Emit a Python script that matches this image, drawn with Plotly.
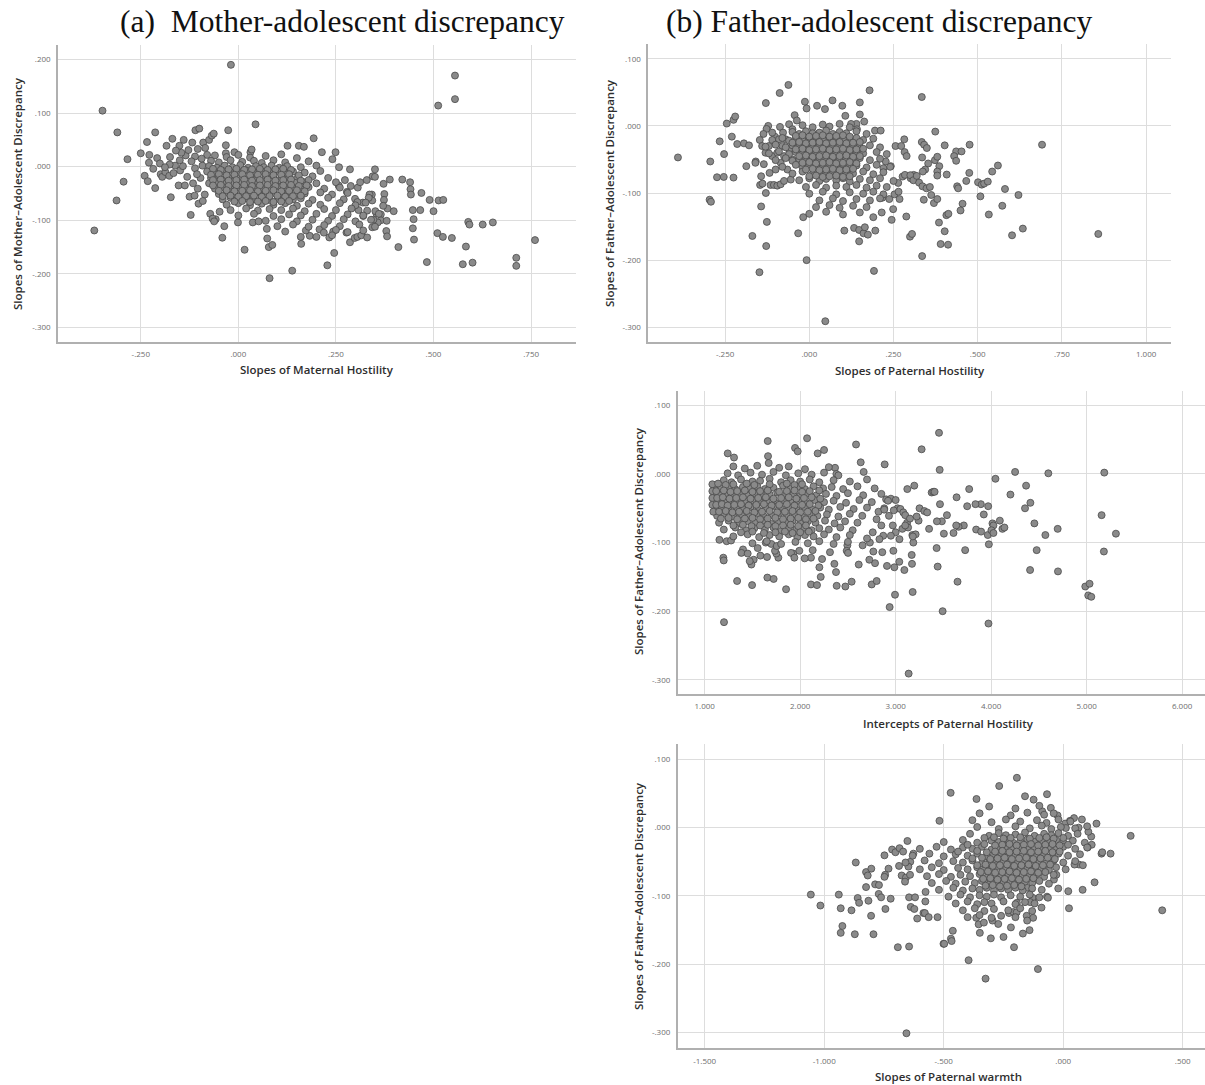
import plotly.graph_objects as go

W, H = 1205, 1085

# ---------------- Panel (a): Mother-adolescent ----------------
mother_sparse = [
    (-0.348, 0.1045), (-0.369, -0.119), (-0.310, 0.064), (-0.312, -0.063), (-0.284, 0.014), (-0.294, -0.028),
    (-0.250, 0.025), (-0.234, 0.046), (-0.213, 0.064), (-0.228, 0.022), (-0.229, 0.0075), (-0.240, -0.017),
    (-0.232, -0.027), (-0.213, -0.040), (-0.218, -0.004), (-0.208, 0.016), (-0.199, -0.014), (-0.195, -0.019),
    (-0.187, -0.010), (-0.184, 0.039), (-0.175, 0.018), (-0.177, -0.017), (-0.169, 0.052), (-0.162, 0.002),
    (-0.173, -0.057), (-0.151, 0.039), (-0.140, 0.050), (-0.149, -0.007), (-0.153, -0.035), (-0.135, 0.021),
    (-0.125, -0.056), (-0.122, -0.090), (-0.111, 0.019), (-0.110, 0.068), (-0.100, 0.071), (-0.104, 0.033),
    (-0.111, -0.003), (-0.102, -0.069), (-0.090, 0.045), (-0.085, 0.035), (-0.075, 0.050), (-0.068, 0.058),
    (-0.080, 0.022), (-0.092, 0.002), (-0.097, -0.021), (-0.104, -0.041), (-0.086, -0.052), (-0.120, 0.010),
    (-0.131, -0.019), (-0.142, 0.001), (-0.116, -0.031), (-0.106, -0.014), (-0.094, 0.015), (-0.128, 0.031),
    (-0.146, 0.026), (-0.160, 0.030), (-0.176, 0.004), (-0.201, 0.006), (-0.112, -0.054), (-0.091, -0.064),
    (-0.072, -0.088), (-0.058, -0.098), (-0.048, -0.084), (-0.188, -0.001), (-0.166, -0.012), (-0.137, -0.035),
    (-0.118, 0.045), (-0.150, 0.012),
    (-0.019, 0.190), (0.044, 0.079), (-0.026, 0.068), (-0.063, 0.0616), (-0.032, 0.040), (-0.032, 0.025),
    (-0.010, 0.027), (0.031, 0.027), (0.034, 0.032), (-0.041, -0.1325), (-0.036, -0.111), (0.016, -0.155),
    (0.080, -0.208), (0.138, -0.194), (0.078, -0.150), (0.087, -0.146), (0.074, -0.134), (0.073, -0.116),
    (0.161, -0.144), (0.160, -0.131), (0.183, -0.129), (0.173, -0.119), (0.208, -0.117), (0.219, -0.123),
    (0.233, -0.132), (0.243, -0.121), (0.228, -0.184), (0.2456, -0.161), (0.193, 0.053), (0.126, 0.039),
    (0.155, 0.039), (0.168, 0.037), (0.214, 0.027), (0.249, 0.027), (0.258, -0.001), (0.286, -0.005),
    (-0.001, -0.104), (0.037, -0.104), (0.052, -0.102), (-0.066, -0.097), (-0.062, -0.102), (0.241, 0.014),
    (0.555, 0.170), (0.555, 0.126), (0.512, 0.114), (0.760, -0.137), (0.712, -0.170), (0.712, -0.185),
    (0.652, -0.104), (0.626, -0.108), (0.589, -0.103), (0.592, -0.108), (0.583, -0.149), (0.575, -0.182),
    (0.600, -0.179), (0.483, -0.178), (0.510, -0.124), (0.524, -0.131), (0.547, -0.133), (0.490, -0.062),
    (0.513, -0.063), (0.525, -0.062), (0.500, -0.083), (0.469, -0.049), (0.466, -0.081), (0.447, -0.081),
    (0.449, -0.098), (0.447, -0.115), (0.450, -0.136), (0.410, -0.150), (0.420, -0.024), (0.440, -0.029),
    (0.441, -0.042), (0.442, -0.052), (0.388, -0.024), (0.372, -0.032), (0.374, -0.051), (0.398, -0.083),
    (0.382, -0.078), (0.350, -0.005), (0.344, -0.018), (0.350, -0.019), (0.342, -0.052), (0.343, -0.063),
    (0.329, -0.025), (0.336, -0.052), (0.373, -0.062), (0.371, -0.073), (0.365, -0.089), (0.365, -0.100),
    (0.357, -0.104), (0.354, -0.088), (0.346, -0.099), (0.343, -0.113), (0.379, -0.120), (0.381, -0.130),
    (0.319, -0.067), (0.320, -0.092), (0.334, -0.058), (0.351, -0.083), (0.306, -0.039), (0.312, -0.029),
    (0.299, -0.060), (0.305, -0.066), (0.288, -0.036), (0.278, -0.047), (0.277, -0.123), (0.286, -0.141),
    (0.298, -0.133), (0.305, -0.131), (0.315, -0.128), (0.308, -0.081), (0.326, -0.067), (0.273, -0.025),
    (0.257, -0.035),
]
mother_core = [
    (-0.06, 0.021), (-0.03, 0.018), (0.0, 0.022), (0.03, 0.017), (0.07, 0.020), (0.11, 0.023), (0.15, 0.016),
    (-0.07, 0.011), (-0.05, 0.008), (-0.02, 0.012), (0.01, 0.009), (0.04, 0.011), (0.06, 0.007), (0.09, 0.012),
    (0.12, 0.008), (0.18, 0.010),
    (-0.075, 0.001), (-0.055, -0.002), (-0.035, 0.002), (-0.015, -0.001), (0.005, 0.003), (0.025, -0.002),
    (0.045, 0.001), (0.065, -0.001), (0.085, 0.002), (0.105, -0.002), (0.125, 0.001), (0.16, -0.001), (0.2, 0.002),
    (-0.08, -0.009), (-0.06, -0.012), (-0.04, -0.008), (-0.02, -0.011), (0.0, -0.010), (0.02, -0.007),
    (0.04, -0.012), (0.06, -0.009), (0.08, -0.011), (0.1, -0.008), (0.12, -0.012), (0.14, -0.009), (0.17, -0.011),
    (0.21, -0.008),
    (-0.07, -0.021), (-0.05, -0.018), (-0.03, -0.022), (-0.01, -0.019), (0.01, -0.021), (0.03, -0.018),
    (0.05, -0.022), (0.07, -0.020), (0.09, -0.017), (0.11, -0.021), (0.13, -0.019), (0.15, -0.022), (0.19, -0.018),
    (0.23, -0.021),
    (-0.075, -0.031), (-0.055, -0.028), (-0.035, -0.032), (-0.015, -0.029), (0.005, -0.031), (0.025, -0.028),
    (0.045, -0.033), (0.065, -0.029), (0.085, -0.031), (0.105, -0.027), (0.125, -0.032), (0.145, -0.030),
    (0.165, -0.028), (0.2, -0.031), (0.25, -0.029),
    (-0.06, -0.041), (-0.04, -0.038), (-0.02, -0.042), (0.0, -0.039), (0.02, -0.041), (0.04, -0.038),
    (0.06, -0.042), (0.08, -0.040), (0.1, -0.037), (0.12, -0.041), (0.14, -0.039), (0.16, -0.042), (0.18, -0.038),
    (0.22, -0.041), (0.26, -0.039),
    (-0.05, -0.051), (-0.03, -0.048), (-0.01, -0.052), (0.01, -0.049), (0.03, -0.051), (0.05, -0.048),
    (0.07, -0.053), (0.09, -0.049), (0.11, -0.051), (0.13, -0.047), (0.15, -0.052), (0.17, -0.050), (0.21, -0.048),
    (0.24, -0.052), (0.28, -0.049),
    (-0.04, -0.061), (-0.02, -0.058), (0.0, -0.062), (0.02, -0.059), (0.04, -0.061), (0.06, -0.058),
    (0.08, -0.062), (0.1, -0.060), (0.12, -0.057), (0.14, -0.061), (0.16, -0.059), (0.19, -0.062), (0.23, -0.058),
    (0.27, -0.061),
    (-0.03, -0.071), (0.0, -0.068), (0.03, -0.072), (0.06, -0.069), (0.09, -0.071), (0.12, -0.068),
    (0.15, -0.073), (0.18, -0.069), (0.21, -0.071), (0.26, -0.068), (0.3, -0.072),
    (-0.02, -0.081), (0.02, -0.078), (0.05, -0.082), (0.08, -0.079), (0.11, -0.081), (0.14, -0.078),
    (0.17, -0.083), (0.22, -0.079), (0.25, -0.081), (0.29, -0.078), (0.33, -0.082),
    (0.0, -0.091), (0.04, -0.088), (0.09, -0.092), (0.13, -0.089), (0.16, -0.091), (0.2, -0.088), (0.24, -0.092),
    (0.28, -0.089), (0.32, -0.091), (0.36, -0.088),
    (0.07, -0.101), (0.11, -0.098), (0.15, -0.102), (0.19, -0.099), (0.23, -0.101), (0.27, -0.098),
    (0.3, -0.102), (0.34, -0.099), (0.38, -0.101),
    (0.1, -0.111), (0.14, -0.108), (0.18, -0.112), (0.22, -0.109), (0.26, -0.111), (0.31, -0.108), (0.35, -0.112),
    (0.12, -0.121), (0.25, -0.118), (0.28, -0.122), (0.32, -0.119),
    (0.2, -0.131), (0.24, -0.128), (0.33, -0.132),
]
mother_dense = [
    (-0.065, -0.004), (-0.045, -0.006), (-0.025, -0.005), (-0.005, -0.004), (0.015, -0.006), (0.035, -0.005),
    (0.055, -0.004), (0.075, -0.006), (0.095, -0.005), (0.115, -0.004), (0.135, -0.006),
    (-0.07, -0.015), (-0.05, -0.014), (-0.03, -0.016), (-0.01, -0.015), (0.01, -0.014), (0.03, -0.016),
    (0.05, -0.015), (0.07, -0.014), (0.09, -0.016), (0.11, -0.015), (0.13, -0.014), (0.155, -0.016),
    (-0.065, -0.025), (-0.045, -0.024), (-0.025, -0.026), (-0.005, -0.025), (0.015, -0.024), (0.035, -0.026),
    (0.055, -0.025), (0.075, -0.024), (0.095, -0.026), (0.115, -0.025), (0.135, -0.024), (0.16, -0.026),
    (0.18, -0.025),
    (-0.065, -0.035), (-0.045, -0.034), (-0.025, -0.036), (-0.005, -0.035), (0.015, -0.034), (0.035, -0.036),
    (0.055, -0.035), (0.075, -0.034), (0.095, -0.036), (0.115, -0.035), (0.135, -0.034), (0.155, -0.036),
    (0.175, -0.035),
    (-0.05, -0.045), (-0.03, -0.044), (-0.01, -0.046), (0.01, -0.045), (0.03, -0.044), (0.05, -0.046),
    (0.07, -0.045), (0.09, -0.044), (0.11, -0.046), (0.13, -0.045), (0.15, -0.044), (0.17, -0.046),
    (-0.04, -0.055), (-0.02, -0.054), (0.0, -0.056), (0.02, -0.055), (0.04, -0.054), (0.06, -0.056),
    (0.08, -0.055), (0.1, -0.054), (0.12, -0.056), (0.14, -0.055), (0.16, -0.054),
    (-0.01, -0.065), (0.01, -0.064), (0.03, -0.066), (0.05, -0.065), (0.07, -0.064), (0.09, -0.066),
    (0.11, -0.065), (0.13, -0.064),
]

# ---------------- Panel (b): Father slopes of hostility ----------------
father_sparse = [
    (-0.390, -0.047), (-0.294, -0.053), (-0.296, -0.110), (-0.292, -0.113), (-0.274, -0.0765), (-0.254, -0.076),
    (-0.253, -0.042), (-0.266, -0.023), (-0.230, -0.016), (-0.225, -0.077), (-0.245, 0.0035), (-0.225, 0.009),
    (-0.220, 0.014), (-0.214, -0.027), (-0.194, -0.026), (-0.179, -0.029), (-0.187, -0.060), (-0.159, -0.053),
    (-0.169, -0.164), (-0.148, -0.218), (-0.128, -0.179), (-0.126, -0.143), (-0.143, -0.120), (-0.143, -0.075),
    (-0.146, -0.088), (-0.139, -0.086), (-0.129, -0.100), (-0.129, 0.034), (-0.088, 0.049), (-0.062, 0.061),
    (-0.008, -0.200), (0.0475, -0.291), (0.192, -0.216), (0.179, 0.053), (-0.033, -0.160), (-0.018, -0.136),
    (0.104, -0.156), (0.133, -0.152), (0.148, -0.155), (0.161, -0.160), (0.174, -0.162), (0.148, -0.172),
    (0.165, -0.151), (0.196, -0.156), (-0.013, 0.036), (-0.008, 0.026), (0.023, 0.030), (0.0465, 0.025),
    (0.069, 0.038), (0.098, 0.030), (0.107, 0.015), (0.150, 0.035), (0.150, 0.017), (-0.0435, 0.016),
    (-0.037, 0.008), (-0.122, 0.0), (-0.127, -0.0045), (-0.087, -0.0015), (-0.060, 0.0025), (-0.136, -0.012),
    (-0.102, -0.016), (-0.147, -0.021), (0.163, 0.0065), (0.140, 0.003), (0.124, 0.003), (0.1415, -0.005),
    (0.195, -0.007), (0.212, -0.007), (0.256, -0.030), (0.273, -0.030), (0.282, -0.020), (0.283, -0.039),
    (0.289, -0.045), (0.310, -0.073), (0.301, -0.078), (0.299, -0.165), (0.305, -0.161), (0.2445, -0.140),
    (0.249, -0.124), (0.288, -0.135), (0.215, -0.129), (0.190, -0.136), (0.217, -0.107), (0.2375, -0.109),
    (0.253, -0.102), (0.268, -0.109), (0.265, -0.098), (0.264, -0.085), (0.277, -0.0755), (0.242, -0.060),
    (0.227, -0.053), (0.220, -0.063),
    (0.334, 0.043), (0.691, -0.028), (0.858, -0.161), (0.374, -0.0085), (0.334, -0.024), (0.341, -0.028),
    (0.349, -0.033), (0.402, -0.029), (0.476, -0.028), (0.436, -0.038), (0.452, -0.038), (0.430, -0.045),
    (0.436, -0.052), (0.335, -0.047), (0.373, -0.051), (0.380, -0.046), (0.353, -0.056), (0.386, -0.060),
    (0.344, -0.065), (0.337, -0.068), (0.284, -0.073), (0.380, -0.068), (0.380, -0.074), (0.408, -0.0725),
    (0.300, -0.0735), (0.309, -0.081), (0.319, -0.0745), (0.326, -0.0845), (0.336, -0.090), (0.348, -0.093),
    (0.358, -0.091), (0.475, -0.070), (0.466, -0.082), (0.439, -0.090), (0.442, -0.093), (0.340, -0.110),
    (0.362, -0.103), (0.370, -0.115), (0.380, -0.109), (0.455, -0.116), (0.449, -0.126), (0.407, -0.133),
    (0.413, -0.131), (0.385, -0.144), (0.402, -0.157), (0.390, -0.176), (0.412, -0.177), (0.501, -0.084),
    (0.512, -0.0875), (0.519, -0.086), (0.530, -0.083), (0.543, -0.068), (0.560, -0.059), (0.581, -0.094),
    (0.621, -0.103), (0.508, -0.105), (0.573, -0.119), (0.533, -0.132), (0.602, -0.163), (0.634, -0.153),
    (0.335, -0.194),
    (-0.12, -0.030), (-0.11, -0.045), (-0.10, -0.025), (-0.095, -0.040), (-0.085, -0.055), (-0.08, -0.030),
    (-0.075, -0.045), (-0.07, -0.020), (-0.065, -0.065), (-0.06, -0.035), (-0.055, -0.080), (-0.05, -0.050),
    (-0.045, -0.025), (-0.115, -0.088), (-0.105, -0.088), (-0.095, -0.089), (-0.085, -0.087), (-0.075, -0.082),
    (-0.13, -0.040), (-0.14, -0.030), (-0.135, -0.057), (-0.118, -0.070), (-0.10, -0.065), (-0.16, -0.055),
    (-0.11, -0.010), (-0.09, -0.020), (-0.078, -0.010), (-0.05, -0.005),
]
father_core = [
    (-0.02, 0.001), (0.01, -0.002), (0.04, 0.002), (0.06, -0.001), (0.09, 0.003), (0.12, -0.002),
    (-0.05, -0.009), (-0.03, -0.012), (-0.01, -0.008), (0.01, -0.011), (0.03, -0.010), (0.05, -0.007),
    (0.07, -0.012), (0.09, -0.009), (0.11, -0.011), (0.14, -0.008), (0.17, -0.012),
    (-0.11, -0.021), (-0.08, -0.018), (-0.06, -0.022), (-0.04, -0.019), (-0.02, -0.021), (0.0, -0.018),
    (0.02, -0.022), (0.04, -0.020), (0.06, -0.017), (0.08, -0.021), (0.1, -0.019), (0.12, -0.022), (0.14, -0.018),
    (0.16, -0.021), (0.19, -0.019),
    (-0.13, -0.031), (-0.1, -0.028), (-0.07, -0.032), (-0.05, -0.029), (-0.03, -0.031), (-0.01, -0.028),
    (0.01, -0.032), (0.03, -0.030), (0.05, -0.027), (0.07, -0.031), (0.09, -0.029), (0.11, -0.032), (0.13, -0.028),
    (0.15, -0.031), (0.18, -0.029), (0.21, -0.032),
    (-0.12, -0.041), (-0.09, -0.038), (-0.06, -0.042), (-0.04, -0.039), (-0.02, -0.041), (0.0, -0.038),
    (0.02, -0.042), (0.04, -0.040), (0.06, -0.037), (0.08, -0.041), (0.1, -0.039), (0.12, -0.042), (0.14, -0.038),
    (0.16, -0.041), (0.2, -0.039), (0.23, -0.042),
    (-0.1, -0.051), (-0.07, -0.048), (-0.05, -0.052), (-0.03, -0.049), (-0.01, -0.051), (0.01, -0.048),
    (0.03, -0.052), (0.05, -0.050), (0.07, -0.047), (0.09, -0.051), (0.11, -0.049), (0.13, -0.052), (0.15, -0.048),
    (0.18, -0.051), (0.21, -0.049),
    (-0.08, -0.061), (-0.04, -0.058), (-0.02, -0.062), (0.0, -0.059), (0.02, -0.061), (0.04, -0.058),
    (0.06, -0.062), (0.08, -0.060), (0.1, -0.057), (0.12, -0.061), (0.14, -0.059), (0.17, -0.062), (0.2, -0.058),
    (0.24, -0.061),
    (-0.05, -0.071), (-0.02, -0.068), (0.01, -0.072), (0.03, -0.069), (0.05, -0.071), (0.07, -0.068),
    (0.09, -0.073), (0.11, -0.069), (0.13, -0.071), (0.16, -0.068), (0.19, -0.072), (0.22, -0.069),
    (-0.03, -0.081), (0.0, -0.078), (0.03, -0.082), (0.05, -0.079), (0.08, -0.081), (0.1, -0.078),
    (0.12, -0.083), (0.15, -0.079), (0.18, -0.081), (0.21, -0.078), (0.25, -0.082),
    (-0.01, -0.091), (0.02, -0.088), (0.05, -0.092), (0.08, -0.089), (0.11, -0.091), (0.14, -0.088),
    (0.17, -0.092), (0.2, -0.089), (0.23, -0.091),
    (0.0, -0.101), (0.04, -0.098), (0.08, -0.102), (0.12, -0.099), (0.16, -0.101), (0.19, -0.098), (0.22, -0.102),
    (0.03, -0.111), (0.07, -0.108), (0.1, -0.112), (0.14, -0.109), (0.18, -0.111), (0.21, -0.108),
    (0.02, -0.121), (0.06, -0.118), (0.09, -0.122), (0.13, -0.119), (0.17, -0.121),
    (0.0, -0.131), (0.05, -0.128), (0.1, -0.132), (0.15, -0.129),
]
father_dense = [
    (-0.04, -0.015), (-0.02, -0.014), (0.0, -0.016), (0.02, -0.015), (0.04, -0.014), (0.06, -0.016),
    (0.08, -0.015), (0.1, -0.014), (0.12, -0.016),
    (-0.05, -0.025), (-0.03, -0.024), (-0.01, -0.026), (0.01, -0.025), (0.03, -0.024), (0.05, -0.026),
    (0.07, -0.025), (0.09, -0.024), (0.11, -0.026), (0.13, -0.025), (0.15, -0.024),
    (-0.04, -0.035), (-0.02, -0.034), (0.0, -0.036), (0.02, -0.035), (0.04, -0.034), (0.06, -0.036),
    (0.08, -0.035), (0.1, -0.034), (0.12, -0.036), (0.14, -0.035), (0.16, -0.034),
    (-0.03, -0.045), (-0.01, -0.044), (0.01, -0.046), (0.03, -0.045), (0.05, -0.044), (0.07, -0.046),
    (0.09, -0.045), (0.11, -0.044), (0.13, -0.046), (0.15, -0.045),
    (-0.02, -0.055), (0.0, -0.054), (0.02, -0.056), (0.04, -0.055), (0.06, -0.054), (0.08, -0.056),
    (0.1, -0.055), (0.12, -0.054), (0.14, -0.056),
    (-0.01, -0.065), (0.01, -0.064), (0.03, -0.066), (0.05, -0.065), (0.07, -0.064), (0.09, -0.066),
    (0.11, -0.065), (0.13, -0.064),
    (0.0, -0.075), (0.02, -0.074), (0.04, -0.076), (0.06, -0.075), (0.08, -0.074), (0.1, -0.076), (0.12, -0.075),
]

# ---------------- Panel (c): Intercepts of paternal hostility ----------------
intercept_sparse = [
    (1.202, -0.216), (3.136, -0.291), (2.937, -0.194), (2.993, -0.176), (3.178, -0.172), (3.492, -0.200),
    (3.454, 0.060), (3.272, 0.036), (3.461, 0.006), (2.585, 0.043), (2.072, 0.052), (1.660, 0.048),
    (1.946, 0.038), (1.974, 0.033), (2.183, 0.030), (2.250, 0.035), (1.241, 0.030), (1.307, 0.024),
    (1.663, 0.026), (1.670, 0.016), (1.339, -0.156), (1.496, -0.162), (1.656, -0.151), (1.722, -0.153),
    (1.852, -0.168), (2.113, -0.161), (2.176, -0.162), (2.382, -0.163), (2.473, -0.164), (2.539, -0.157),
    (2.749, -0.161), (2.801, -0.156), (2.885, 0.014), (2.634, 0.017), (2.665, 0.003), (2.365, 0.009),
    (2.379, 0.0), (1.195, -0.122), (1.199, -0.126), (1.154, -0.096), (1.230, -0.098), (1.276, -0.097),
    (3.122, -0.022), (3.195, -0.017), (3.377, -0.027), (3.394, -0.026), (3.464, -0.044), (3.429, -0.108),
    (3.440, -0.135), (3.168, -0.118), (3.171, -0.131), (3.175, -0.089), (3.209, -0.088), (3.185, -0.100),
    (3.091, -0.140), (3.038, -0.128), (2.986, -0.136), (2.976, -0.112), (2.909, -0.134), (2.860, -0.114),
    (2.784, -0.130), (2.724, -0.125), (2.766, -0.113), (2.613, -0.132), (2.654, -0.104), (2.494, -0.104),
    (2.487, -0.112), (2.501, -0.115), (2.358, -0.131), (2.375, -0.143), (2.215, -0.150), (2.201, -0.136),
    (2.229, -0.124), (2.312, -0.114), (2.113, -0.122), (2.131, -0.111), (2.047, -0.123), (1.928, -0.116),
    (1.904, -0.115), (1.991, -0.112), (1.939, -0.122), (1.771, -0.122), (1.750, -0.116), (1.736, -0.112),
    (1.583, -0.119), (1.653, -0.121), (1.555, -0.108), (1.513, -0.125), (1.489, -0.132), (1.471, -0.127),
    (1.401, -0.110), (1.384, -0.115), (1.450, -0.116), (1.639, -0.100), (1.698, -0.102), (1.754, -0.105),
    (4.251, 0.003), (4.599, 0.001), (5.185, 0.002), (4.045, -0.007), (4.366, -0.017), (4.202, -0.030),
    (4.411, -0.042), (4.355, -0.050), (5.157, -0.060), (5.307, -0.087), (5.181, -0.113), (4.697, -0.080),
    (4.568, -0.089), (4.453, -0.072), (4.477, -0.111), (4.408, -0.140), (4.700, -0.142), (4.986, -0.164),
    (5.031, -0.160), (5.017, -0.177), (5.049, -0.179), (3.972, -0.218), (3.976, -0.1025), (3.965, -0.089),
    (3.923, -0.059), (3.892, -0.044), (3.969, -0.047), (4.014, -0.072), (4.024, -0.075), (4.003, -0.082),
    (4.024, -0.086), (4.091, -0.068), (4.118, -0.080), (4.139, -0.078), (3.843, -0.081), (3.895, -0.084),
    (3.836, -0.044), (3.749, -0.047), (3.638, -0.034), (3.770, -0.022), (3.728, -0.111), (3.648, -0.157),
    (3.714, -0.075), (3.659, -0.077), (3.634, -0.075), (3.606, -0.086), (3.505, -0.087), (3.537, -0.060),
    (3.484, -0.069), (3.432, -0.069), (3.408, -0.026),
    (2.90, -0.037), (2.95, -0.036), (3.00, -0.038), (3.02, -0.050), (2.98, -0.053), (3.05, -0.051),
    (3.08, -0.056), (3.10, -0.060), (3.12, -0.071), (3.15, -0.065), (2.93, -0.061), (2.97, -0.075),
    (3.00, -0.085), (2.95, -0.090), (3.07, -0.080), (3.13, -0.078), (3.18, -0.091), (3.25, -0.050),
    (3.30, -0.054), (3.33, -0.056), (3.24, -0.068), (3.35, -0.080), (3.22, -0.062), (2.88, -0.050),
    (2.85, -0.075), (2.82, -0.055), (2.80, -0.066), (2.87, -0.090), (2.83, -0.095), (2.76, -0.085),
    (2.73, -0.100), (2.70, -0.094), (3.04, -0.095), (3.10, -0.075),
]
intercept_core = [
    (1.30, 0.011), (1.42, 0.008), (1.55, 0.012), (1.78, 0.009), (1.88, 0.011), (2.05, 0.007), (2.30, 0.010),
    (1.24, 0.001), (1.35, -0.002), (1.48, 0.002), (1.60, -0.001), (1.72, 0.003), (1.85, -0.002), (1.98, 0.001),
    (2.12, -0.001), (2.25, 0.002), (2.40, -0.002),
    (1.20, -0.009), (1.28, -0.012), (1.38, -0.008), (1.50, -0.011), (1.58, -0.010), (1.68, -0.007),
    (1.80, -0.012), (1.90, -0.009), (2.00, -0.011), (2.10, -0.008), (2.20, -0.012), (2.35, -0.009),
    (2.52, -0.011), (2.70, -0.008),
    (1.10, -0.019), (1.17, -0.021), (1.25, -0.018), (1.32, -0.022), (1.40, -0.019), (1.47, -0.021),
    (1.55, -0.018), (1.63, -0.022), (1.72, -0.020), (1.82, -0.017), (1.90, -0.021), (1.97, -0.019),
    (2.05, -0.022), (2.14, -0.018), (2.24, -0.021), (2.33, -0.019), (2.45, -0.022), (2.60, -0.018), (2.78, -0.021),
    (1.10, -0.029), (1.16, -0.031), (1.23, -0.028), (1.30, -0.032), (1.37, -0.029), (1.45, -0.031),
    (1.52, -0.028), (1.60, -0.032), (1.68, -0.030), (1.76, -0.027), (1.85, -0.031), (1.93, -0.029),
    (2.00, -0.032), (2.08, -0.028), (2.17, -0.031), (2.27, -0.029), (2.38, -0.032), (2.50, -0.028),
    (2.66, -0.031), (2.85, -0.029),
    (1.10, -0.040), (1.15, -0.042), (1.21, -0.038), (1.28, -0.041), (1.35, -0.039), (1.42, -0.042),
    (1.50, -0.038), (1.58, -0.041), (1.65, -0.039), (1.74, -0.042), (1.82, -0.038), (1.90, -0.041),
    (1.98, -0.039), (2.06, -0.042), (2.15, -0.038), (2.25, -0.041), (2.35, -0.039), (2.48, -0.042),
    (2.62, -0.038), (2.75, -0.041), (2.92, -0.039),
    (1.11, -0.051), (1.18, -0.048), (1.25, -0.052), (1.33, -0.049), (1.40, -0.051), (1.48, -0.048),
    (1.56, -0.052), (1.64, -0.050), (1.72, -0.047), (1.80, -0.051), (1.88, -0.049), (1.96, -0.052),
    (2.04, -0.048), (2.12, -0.051), (2.21, -0.049), (2.30, -0.052), (2.42, -0.048), (2.56, -0.051),
    (2.70, -0.049), (2.88, -0.052),
    (1.13, -0.061), (1.20, -0.058), (1.30, -0.062), (1.38, -0.059), (1.46, -0.061), (1.55, -0.058),
    (1.62, -0.062), (1.70, -0.060), (1.78, -0.057), (1.86, -0.061), (1.94, -0.059), (2.02, -0.062),
    (2.10, -0.058), (2.18, -0.061), (2.28, -0.059), (2.40, -0.062), (2.52, -0.058), (2.65, -0.061),
    (1.15, -0.071), (1.25, -0.068), (1.36, -0.072), (1.45, -0.069), (1.53, -0.071), (1.62, -0.068),
    (1.70, -0.073), (1.77, -0.069), (1.85, -0.071), (1.92, -0.068), (2.00, -0.072), (2.08, -0.069),
    (2.16, -0.071), (2.26, -0.068), (2.36, -0.072), (2.47, -0.069), (2.60, -0.071),
    (1.20, -0.081), (1.32, -0.078), (1.43, -0.082), (1.52, -0.079), (1.63, -0.081), (1.72, -0.078),
    (1.80, -0.083), (1.88, -0.079), (1.96, -0.081), (2.04, -0.078), (2.12, -0.082), (2.20, -0.079),
    (2.30, -0.081), (2.42, -0.078), (2.55, -0.082),
    (1.30, -0.091), (1.45, -0.088), (1.57, -0.092), (1.68, -0.089), (1.78, -0.091), (1.88, -0.088),
    (1.97, -0.092), (2.05, -0.089), (2.14, -0.091), (2.25, -0.088), (2.38, -0.092), (2.52, -0.089),
    (1.50, -0.101), (1.65, -0.098), (1.80, -0.102), (1.95, -0.099), (2.08, -0.101), (2.20, -0.098),
    (2.35, -0.102), (2.50, -0.099),
]
intercept_dense = [
    (1.08, -0.015), (1.08, -0.025), (1.08, -0.035), (1.08, -0.045), (1.09, -0.055),
    (1.14, -0.014), (1.22, -0.016), (1.30, -0.015), (1.44, -0.014), (1.52, -0.016), (1.68, -0.015),
    (1.86, -0.014), (1.94, -0.016), (2.02, -0.015),
    (1.12, -0.025), (1.20, -0.024), (1.27, -0.026), (1.34, -0.025), (1.42, -0.024), (1.50, -0.026),
    (1.58, -0.025), (1.66, -0.024), (1.78, -0.026), (1.86, -0.025), (1.94, -0.024), (2.02, -0.026),
    (2.10, -0.025), (2.20, -0.024),
    (1.13, -0.035), (1.19, -0.034), (1.26, -0.036), (1.33, -0.035), (1.40, -0.034), (1.48, -0.036),
    (1.56, -0.035), (1.64, -0.034), (1.72, -0.036), (1.80, -0.035), (1.88, -0.034), (1.96, -0.036),
    (2.04, -0.035), (2.12, -0.034), (2.21, -0.036),
    (1.12, -0.045), (1.18, -0.044), (1.24, -0.046), (1.31, -0.045), (1.38, -0.044), (1.46, -0.046),
    (1.54, -0.045), (1.62, -0.044), (1.70, -0.046), (1.78, -0.045), (1.86, -0.044), (1.94, -0.046),
    (2.02, -0.045), (2.10, -0.044), (2.19, -0.046),
    (1.15, -0.055), (1.22, -0.054), (1.29, -0.056), (1.36, -0.055), (1.44, -0.054), (1.52, -0.056),
    (1.60, -0.055), (1.68, -0.054), (1.76, -0.056), (1.84, -0.055), (1.92, -0.054), (2.00, -0.056),
    (2.08, -0.055), (2.16, -0.054),
    (1.17, -0.065), (1.25, -0.064), (1.34, -0.066), (1.42, -0.065), (1.50, -0.064), (1.58, -0.066),
    (1.66, -0.065), (1.74, -0.064), (1.82, -0.066), (1.90, -0.065), (1.98, -0.064), (2.06, -0.066),
    (2.14, -0.065),
    (1.30, -0.075), (1.40, -0.074), (1.49, -0.076), (1.58, -0.075), (1.66, -0.074), (1.74, -0.076),
    (1.82, -0.075), (1.90, -0.074), (1.98, -0.076), (2.06, -0.075),
    (1.38, -0.085), (1.50, -0.084), (1.62, -0.086), (1.74, -0.085), (1.84, -0.084), (1.92, -0.086),
    (2.00, -0.085), (2.09, -0.084),
]

# ---------------- Panel (d): Slopes of paternal warmth ----------------
warmth_sparse = [
    (-1.056, -0.098), (-1.016, -0.114), (-0.939, -0.098), (-0.931, -0.118), (-0.924, -0.144), (-0.931, -0.154),
    (-0.872, -0.156), (-0.794, -0.156), (-0.886, -0.121), (-0.860, -0.103), (-0.854, -0.110), (-0.815, -0.107),
    (-0.804, -0.129), (-0.868, -0.051), (-0.825, -0.065), (-0.818, -0.070), (-0.803, -0.060), (-0.825, -0.087),
    (-0.787, -0.083), (-0.771, -0.084), (-0.772, -0.097), (-0.762, -0.102), (-0.744, -0.119), (-0.748, -0.0405),
    (-0.731, -0.060), (-0.745, -0.069), (-0.748, -0.072), (-0.722, -0.104), (-0.716, -0.032), (-0.702, -0.036),
    (-0.685, -0.030), (-0.670, -0.035), (-0.652, -0.0195), (-0.627, -0.038), (-0.640, -0.050), (-0.648, -0.057),
    (-0.687, -0.056), (-0.676, -0.070), (-0.658, -0.073), (-0.662, -0.079), (-0.641, -0.069), (-0.645, -0.102),
    (-0.620, -0.102), (-0.638, -0.116), (-0.623, -0.119), (-0.692, -0.175), (-0.645, -0.174), (-0.656, -0.301),
    (-0.585, -0.125), (-0.579, -0.125), (-0.611, -0.133), (-0.577, -0.108), (-0.576, -0.094), (-0.563, -0.131),
    (-0.518, 0.010), (-0.501, -0.170),
    (-0.194, 0.073), (-0.268, 0.061), (-0.471, 0.051), (-0.363, 0.042), (-0.068, 0.049), (-0.124, 0.041),
    (-0.160, 0.046), (-0.052, 0.029), (-0.088, 0.024), (-0.024, 0.018), (0.282, -0.012), (0.414, -0.121),
    (0.139, 0.006), (0.198, -0.038), (0.160, -0.038), (0.163, -0.036), (0.117, -0.013), (0.105, -0.006),
    (0.119, -0.025), (0.102, -0.029), (0.078, 0.012), (0.064, 0.0), (0.045, 0.014), (0.028, 0.010),
    (0.008, 0.006), (0.011, -0.0005), (0.066, -0.054), (0.082, -0.055), (0.047, -0.054), (0.131, -0.080),
    (0.081, -0.091), (0.021, -0.093), (0.024, -0.118), (-0.021, -0.089), (-0.039, -0.076), (-0.029, -0.069),
    (-0.068, -0.101), (-0.064, -0.1025), (-0.091, -0.117), (-0.126, -0.132), (-0.141, -0.150), (-0.169, -0.155),
    (-0.219, -0.146), (-0.206, -0.175), (-0.250, -0.160), (-0.303, -0.162), (-0.272, -0.141), (-0.296, -0.136),
    (-0.498, -0.170), (-0.470, -0.1625), (-0.467, -0.166), (-0.462, -0.151), (-0.526, -0.131), (-0.364, -0.132),
    (-0.354, -0.1415), (-0.332, -0.139), (-0.349, -0.154), (-0.153, -0.129), (-0.151, -0.136), (-0.128, -0.1025),
    (-0.138, -0.109), (-0.152, -0.088), (-0.194, -0.110), (-0.227, -0.125), (-0.208, -0.1235), (-0.195, -0.124),
    (-0.106, -0.207), (-0.325, -0.221), (-0.396, -0.194),
]
warmth_core = [
    (-0.31, 0.031), (-0.20, 0.028), (-0.10, 0.032),
    (-0.35, 0.021), (-0.22, 0.018), (-0.15, 0.022), (-0.08, 0.019), (-0.04, 0.021),
    (-0.38, 0.011), (-0.30, 0.008), (-0.24, 0.012), (-0.18, 0.009), (-0.11, 0.011), (-0.07, 0.007),
    (-0.02, 0.012), (0.03, 0.009),
    (-0.36, 0.001), (-0.27, -0.002), (-0.20, 0.002), (-0.14, -0.001), (-0.09, 0.003), (-0.05, -0.002),
    (-0.01, 0.001), (0.05, -0.001), (0.10, 0.002),
    (-0.39, -0.009), (-0.31, -0.012), (-0.27, -0.008), (-0.24, -0.011), (-0.20, -0.010), (-0.16, -0.007),
    (-0.12, -0.012), (-0.08, -0.009), (-0.05, -0.011), (-0.02, -0.008), (0.02, -0.012), (0.06, -0.009),
    (-0.50, -0.021), (-0.42, -0.018), (-0.36, -0.022), (-0.30, -0.019), (-0.27, -0.021), (-0.24, -0.018),
    (-0.21, -0.022), (-0.18, -0.020), (-0.15, -0.017), (-0.12, -0.021), (-0.09, -0.019), (-0.06, -0.022),
    (-0.03, -0.018), (0.00, -0.021), (0.04, -0.019), (0.09, -0.022),
    (-0.60, -0.031), (-0.53, -0.028), (-0.47, -0.032), (-0.42, -0.029), (-0.38, -0.031), (-0.34, -0.028),
    (-0.30, -0.032), (-0.27, -0.030), (-0.24, -0.027), (-0.21, -0.031), (-0.18, -0.029), (-0.15, -0.032),
    (-0.12, -0.028), (-0.09, -0.031), (-0.06, -0.029), (-0.03, -0.032), (0.00, -0.028), (0.05, -0.031),
    (0.10, -0.029),
    (-0.63, -0.041), (-0.56, -0.038), (-0.50, -0.042), (-0.45, -0.039), (-0.40, -0.041), (-0.36, -0.038),
    (-0.32, -0.042), (-0.29, -0.040), (-0.26, -0.037), (-0.23, -0.041), (-0.20, -0.039), (-0.17, -0.042),
    (-0.14, -0.038), (-0.11, -0.041), (-0.08, -0.039), (-0.05, -0.042), (-0.02, -0.038), (0.02, -0.041),
    (0.07, -0.039),
    (-0.66, -0.051), (-0.58, -0.048), (-0.52, -0.052), (-0.46, -0.049), (-0.42, -0.051), (-0.38, -0.048),
    (-0.34, -0.052), (-0.31, -0.050), (-0.28, -0.047), (-0.25, -0.051), (-0.22, -0.049), (-0.19, -0.052),
    (-0.16, -0.048), (-0.13, -0.051), (-0.10, -0.049), (-0.07, -0.052), (-0.04, -0.048), (0.00, -0.051),
    (0.05, -0.049),
    (-0.60, -0.061), (-0.55, -0.058), (-0.50, -0.062), (-0.44, -0.059), (-0.40, -0.061), (-0.36, -0.058),
    (-0.33, -0.062), (-0.30, -0.060), (-0.27, -0.057), (-0.24, -0.061), (-0.21, -0.059), (-0.18, -0.062),
    (-0.15, -0.058), (-0.12, -0.061), (-0.09, -0.059), (-0.06, -0.062), (-0.03, -0.058), (0.01, -0.061),
    (-0.57, -0.071), (-0.52, -0.068), (-0.47, -0.072), (-0.43, -0.069), (-0.39, -0.071), (-0.35, -0.068),
    (-0.32, -0.073), (-0.29, -0.069), (-0.26, -0.071), (-0.23, -0.068), (-0.20, -0.072), (-0.17, -0.069),
    (-0.14, -0.071), (-0.11, -0.068), (-0.08, -0.072), (-0.04, -0.069),
    (-0.55, -0.081), (-0.49, -0.078), (-0.45, -0.082), (-0.41, -0.079), (-0.37, -0.081), (-0.34, -0.078),
    (-0.31, -0.083), (-0.28, -0.079), (-0.25, -0.081), (-0.22, -0.078), (-0.19, -0.082), (-0.16, -0.079),
    (-0.13, -0.081), (-0.10, -0.078), (-0.06, -0.082),
    (-0.52, -0.091), (-0.46, -0.088), (-0.42, -0.092), (-0.38, -0.089), (-0.35, -0.091), (-0.32, -0.088),
    (-0.29, -0.092), (-0.26, -0.089), (-0.23, -0.091), (-0.20, -0.088), (-0.17, -0.092), (-0.13, -0.089),
    (-0.09, -0.091),
    (-0.48, -0.101), (-0.43, -0.098), (-0.39, -0.102), (-0.35, -0.099), (-0.32, -0.101), (-0.29, -0.098),
    (-0.26, -0.102), (-0.22, -0.099), (-0.18, -0.101), (-0.14, -0.098), (-0.10, -0.102),
    (-0.45, -0.111), (-0.40, -0.108), (-0.36, -0.112), (-0.33, -0.109), (-0.30, -0.111), (-0.25, -0.108),
    (-0.20, -0.112), (-0.16, -0.109), (-0.12, -0.111),
    (-0.42, -0.121), (-0.37, -0.118), (-0.33, -0.122), (-0.29, -0.119), (-0.23, -0.121), (-0.18, -0.118),
    (-0.13, -0.122),
    (-0.40, -0.131), (-0.35, -0.128), (-0.30, -0.132), (-0.26, -0.129), (-0.20, -0.131),
]
warmth_dense = [
    (-0.33, -0.015), (-0.29, -0.014), (-0.25, -0.016), (-0.22, -0.015), (-0.18, -0.014), (-0.14, -0.016),
    (-0.10, -0.015), (-0.07, -0.014), (-0.04, -0.016), (0.00, -0.015),
    (-0.40, -0.025), (-0.33, -0.024), (-0.285, -0.026), (-0.255, -0.025), (-0.225, -0.024), (-0.195, -0.026),
    (-0.165, -0.025), (-0.135, -0.024), (-0.105, -0.026), (-0.075, -0.025), (-0.045, -0.024), (-0.015, -0.026),
    (0.02, -0.025),
    (-0.44, -0.035), (-0.36, -0.034), (-0.32, -0.036), (-0.285, -0.035), (-0.255, -0.034), (-0.225, -0.036),
    (-0.195, -0.035), (-0.165, -0.034), (-0.135, -0.036), (-0.105, -0.035), (-0.075, -0.034), (-0.045, -0.036),
    (-0.015, -0.035),
    (-0.38, -0.045), (-0.34, -0.044), (-0.305, -0.046), (-0.275, -0.045), (-0.245, -0.044), (-0.215, -0.046),
    (-0.185, -0.045), (-0.155, -0.044), (-0.125, -0.046), (-0.095, -0.045), (-0.065, -0.044), (-0.035, -0.046),
    (-0.36, -0.055), (-0.325, -0.054), (-0.295, -0.056), (-0.265, -0.055), (-0.235, -0.054), (-0.205, -0.056),
    (-0.175, -0.055), (-0.145, -0.054), (-0.115, -0.056), (-0.085, -0.055), (-0.055, -0.054),
    (-0.345, -0.065), (-0.315, -0.064), (-0.285, -0.066), (-0.255, -0.065), (-0.225, -0.064), (-0.195, -0.066),
    (-0.165, -0.065), (-0.135, -0.064), (-0.105, -0.066), (-0.075, -0.065),
    (-0.335, -0.075), (-0.305, -0.074), (-0.275, -0.076), (-0.245, -0.075), (-0.215, -0.074), (-0.185, -0.076),
    (-0.155, -0.075), (-0.125, -0.074),
    (-0.325, -0.085), (-0.295, -0.084), (-0.265, -0.086), (-0.235, -0.085), (-0.205, -0.084), (-0.175, -0.086),
]

# ---------------- Tick labels ----------------
a_xtick_vals = [-0.25, 0.0, 0.25, 0.5, 0.75]
a_xtick_text = ['-.250', '.000', '.250', '.500', '.750']
a_ytick_vals = [0.2, 0.1, 0.0, -0.1, -0.2, -0.3]
a_ytick_text = ['.200', '.100', '.000', '-.100', '-.200', '-.300']
b_xtick_vals = [-0.25, 0.0, 0.25, 0.5, 0.75, 1.0]
b_xtick_text = ['-.250', '.000', '.250', '.500', '.750', '1.000']
f_ytick_vals = [0.1, 0.0, -0.1, -0.2, -0.3]
f_ytick_text = ['.100', '.000', '-.100', '-.200', '-.300']
c_xtick_vals = [1, 2, 3, 4, 5, 6]
c_xtick_text = ['1.000', '2.000', '3.000', '4.000', '5.000', '6.000']
d_xtick_vals = [-1.5, -1.0, -0.5, 0.0, 0.5]
d_xtick_text = ['-1.500', '-1.000', '-.500', '.000', '.500']

panels = [
    dict(pts=mother_sparse + mother_core + mother_dense, px=(58, 576), py=(45, 341.7),
         xr=[-0.462, 0.865], yr=[-0.3265, 0.227],
         xt=(a_xtick_vals, a_xtick_text), yt=(a_ytick_vals, a_ytick_text),
         xtitle='Slopes of Maternal Hostility', xtpos=(317, 369),
         ytitle='Slopes of Mother\u2013Adolescent Discrepancy', ytpos=(18, 194)),
    dict(pts=father_sparse + father_core + father_dense, px=(648.3, 1170.7), py=(44, 341.7),
         xr=[-0.478, 1.073], yr=[-0.3215, 0.122],
         xt=(b_xtick_vals, b_xtick_text), yt=(f_ytick_vals, f_ytick_text),
         xtitle='Slopes of Paternal Hostility', xtpos=(910, 370),
         ytitle='Slopes of Father\u2013Adolescent Discrepancy', ytpos=(610, 193)),
    dict(pts=intercept_sparse + intercept_core + intercept_dense, px=(677.7, 1205), py=(390.7, 694),
         xr=[0.717, 6.24], yr=[-0.3207, 0.1214],
         xt=(c_xtick_vals, c_xtick_text), yt=(f_ytick_vals, f_ytick_text),
         xtitle='Intercepts of Paternal Hostility', xtpos=(948, 723),
         ytitle='Slopes of Father\u2013Adolescent Discrepancy', ytpos=(638, 541)),
    dict(pts=warmth_sparse + warmth_core + warmth_dense, px=(677.7, 1205), py=(744, 1048.3),
         xr=[-1.613, 0.593], yr=[-0.323, 0.1225],
         xt=(d_xtick_vals, d_xtick_text), yt=(f_ytick_vals, f_ytick_text),
         xtitle='Slopes of Paternal warmth', xtpos=(948, 1076),
         ytitle='Slopes of Father\u2013Adolescent Discrepancy', ytpos=(638, 896)),
]

fig = go.Figure()
TICKFONT = dict(family='Open Sans, Liberation Sans, sans-serif', size=8, color='#6e6e6e')
TITLEFONT = dict(family='Open Sans, DejaVu Sans, sans-serif', size=11.5, color='#2e2e2e', weight=600)
annotations = []
layout_axes = {}
for i, p in enumerate(panels, start=1):
    xa = 'x' if i == 1 else f'x{i}'
    ya = 'y' if i == 1 else f'y{i}'
    fig.add_trace(go.Scatter(
        x=[q[0] for q in p['pts']], y=[q[1] for q in p['pts']],
        mode='markers', xaxis=xa, yaxis=ya, showlegend=False, hoverinfo='skip',
        marker=dict(size=7, color='#8a8a8a', line=dict(color='#4a4a4a', width=0.8)),
    ))
    common = dict(showgrid=True, gridcolor='#dddddd', gridwidth=1, zeroline=False,
                  showline=True, linecolor='#b0b0b0', linewidth=1.5, ticks='', tickfont=TICKFONT,
                  tickmode='array', ticklabelstandoff=4, fixedrange=True)
    layout_axes['xaxis' if i == 1 else f'xaxis{i}'] = dict(
        common, domain=[p['px'][0] / W, min(p['px'][1] / W, 1.0)], range=p['xr'],
        tickvals=p['xt'][0], ticktext=p['xt'][1], anchor=ya)
    layout_axes['yaxis' if i == 1 else f'yaxis{i}'] = dict(
        common, domain=[1 - p['py'][1] / H, 1 - p['py'][0] / H], range=p['yr'],
        tickvals=p['yt'][0], ticktext=p['yt'][1], anchor=xa)
    annotations.append(dict(text=p['xtitle'], x=p['xtpos'][0] / W, y=1 - p['xtpos'][1] / H,
                            xref='paper', yref='paper', showarrow=False, font=TITLEFONT,
                            xanchor='center', yanchor='middle'))
    annotations.append(dict(text=p['ytitle'], x=p['ytpos'][0] / W, y=1 - p['ytpos'][1] / H,
                            xref='paper', yref='paper', showarrow=False, font=TITLEFONT, textangle=-90,
                            xanchor='center', yanchor='middle'))

HEADFONT = dict(family='Liberation Serif, Times New Roman, serif', size=31.5, color='#111111')
annotations.append(dict(text='(a)\u00a0 Mother-adolescent discrepancy', x=118 / W, y=1 - 22 / H,
                        xref='paper', yref='paper', showarrow=False, font=HEADFONT,
                        xanchor='left', yanchor='middle'))
annotations.append(dict(text='(b) Father-adolescent discrepancy', x=664 / W, y=1 - 22 / H,
                        xref='paper', yref='paper', showarrow=False, font=HEADFONT,
                        xanchor='left', yanchor='middle'))

fig.update_layout(width=W, height=H, margin=dict(l=0, r=0, t=0, b=0),
                  paper_bgcolor='white', plot_bgcolor='white',
                  annotations=annotations, **layout_axes)

fig.write_html('out.html', config={'displayModeBar': False},
               post_script="document.body.style.margin='0px';document.body.style.overflow='hidden';")
